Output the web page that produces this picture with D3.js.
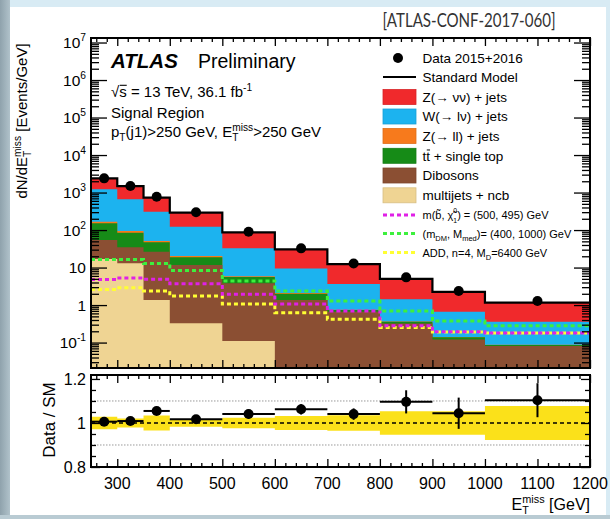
<!DOCTYPE html>
<html>
<head>
<meta charset="utf-8">
<script src="https://cdn.jsdelivr.net/npm/d3@7"></script>
<style>
  html, body { margin: 0; padding: 0; background: #fff; }
  svg { display: block; }
  svg text { white-space: pre; }
</style>
</head>
<body>
<svg id="chart" width="610" height="519"></svg>
<script>
// ---- binning (GeV) ----
const binEdges = [250, 300, 350, 400, 500, 600, 700, 800, 900, 1000, 1200];

// ---- observed data, dN/dE_T^miss [Events/GeV] ----
const dataValues = [2390, 1490, 773, 297, 90.1, 32.5, 12.9, 5.48, 2.36, 1.28];

// ---- SM background components [Events/GeV] ----
const zvvJets        = [1159, 817, 425, 170, 54.0, 21.1, 8.77, 3.58, 1.60, 0.80];
const wlvJets        = [1051, 566, 257, 101.7, 26.7, 7.41, 2.88, 1.055, 0.52, 0.273];
const zllJets        = [15, 9, 4, 1.6, 0.3, 0.09, 0.01, 0.005, 0.002, 0.001];
const ttbarSingleTop = [97, 50, 20.5, 7.0, 1.8, 0.64, 0.08, 0.035, 0.018, 0.005];
const dibosons       = [37, 22, 25.1, 11.4, 3.69, 1.36, 0.66, 0.325, 0.12, 0.081];
const multijetsNcb   = [17, 13, 1.36, 0.33, 0.11, 0, 0, 0, 0, 0];

// ---- signal benchmarks [Events/GeV] ----
const sbottomSignal = [4.8, 5.3, 4.9, 3.7, 1.93, 1.06, 0.70, 0.28, 0.195, 0.18];
const dmSignal      = [16.5, 16.5, 12.9, 8.4, 4.4, 2.36, 1.28, 0.69, 0.374, 0.28];
const addSignal     = [2.62, 2.9, 2.36, 1.74, 1.06, 0.62, 0.416, 0.254, 0.19, 0.18];

// ---- relative uncertainties for the ratio panel ----
const dataStatErr = [0.006, 0.008, 0.012, 0.015, 0.02, 0.022, 0.025, 0.048, 0.068, 0.07];
const smSystErr   = [0.028, 0.02, 0.034, 0.017, 0.024, 0.032, 0.035, 0.053, 0.053, 0.077];

// ---- axis ticks ----
const yMajorExps   = [-1, 0, 1, 2, 3, 4, 5, 6, 7];
const xMajorTicks  = [300, 400, 500, 600, 700, 800, 900, 1000, 1100, 1200];
const ratioMajor   = [0.8, 1, 1.2];
const ratioLabels  = ["0.8", "1", "1.2"];
const ratioMinor   = [0.85, 0.9, 0.95, 1.05, 1.1, 1.15];

const FONT = "'Liberation Sans', Arial, Helvetica, sans-serif";
const nBins = dataValues.length;

const svg = d3.select("#chart");

// ---- page background and white card ----
svg.append("rect").attr("width", 610).attr("height", 519).attr("fill", "#d8ebf4");
const gradL = svg.append("defs").append("linearGradient").attr("id", "edgeL")
  .attr("x1", 0).attr("x2", 1).attr("y1", 0).attr("y2", 0);
gradL.append("stop").attr("offset", 0).attr("stop-color", "#8fa2ac");
gradL.append("stop").attr("offset", 1).attr("stop-color", "#b0c2ca");
svg.append("rect").attr("x", 0).attr("y", 0).attr("width", 10).attr("height", 519).attr("fill", "url(#edgeL)");
svg.append("rect").attr("x", 0).attr("y", 515).attr("width", 610).attr("height", 4).attr("fill", "#b9cbd3");
svg.append("rect").attr("x", 10).attr("y", 7).attr("width", 596).attr("height", 508).attr("fill", "#ffffff");

// ---- scales ----
const P = { l: 91, r: 590, t: 38, b: 368 };
const Rp = { t: 375, b: 467 };
const yMin = 0.021, yMax = 1.32e7;
const x = d3.scaleLinear().domain([250, 1200]).range([P.l, P.r]);
const y = d3.scaleLog().domain([yMin, yMax]).range([P.b, P.t]);
const yr = d3.scaleLinear().domain([0.8, 1.218]).range([Rp.b, Rp.t]);

const centers = d3.range(nBins).map(i => (binEdges[i] + binEdges[i + 1]) / 2);
const stepPts = vals => binEdges.map((e, i) => ({ x: e, v: vals[Math.min(i, nBins - 1)] }));
const clampY = v => y(Math.max(v, yMin));

// ---- rich text helper (sub/superscripts, stacked indices, overlines) ----
function rich(parent, px, py, parts, o = {}) {
  const size = o.size || 15;
  const g = parent.append("g");
  let cx = 0;
  const put = (q, at) => {
    const fs = size * (q.scale || 1);
    const t = g.append("text")
      .attr("x", at).attr("y", q.dy || 0)
      .attr("font-family", o.family || FONT)
      .attr("font-size", fs)
      .attr("font-weight", q.weight || o.weight || "normal")
      .attr("font-style", q.italic || o.italic ? "italic" : "normal")
      .attr("fill", o.fill || "#000")
      .style("white-space", "pre")
      .text(q.t);
    const w = t.node().getComputedTextLength();
    if (q.over) {
      g.append("line").attr("x1", at + 0.5).attr("x2", at + w)
        .attr("y1", -fs * 0.78).attr("y2", -fs * 0.78)
        .attr("stroke", o.fill || "#000").attr("stroke-width", Math.max(1, fs / 14));
    }
    return w;
  };
  parts.forEach(p => {
    if (typeof p === "string") p = { t: p };
    if (p.stack) cx += Math.max(...p.stack.map(q => put(q, cx)));
    else cx += put(p, cx);
  });
  const a = o.anchor || "start";
  const shift = a === "end" ? -cx : a === "middle" ? -cx / 2 : 0;
  g.attr("transform", `translate(${px},${py}) rotate(${o.rotate || 0}) translate(${shift},0)`);
  return g;
}
const sup = (t, s) => ({ t, scale: 0.68, dy: -(s || 15) * 0.38 });
const sub = (t, s) => ({ t, scale: 0.68, dy: (s || 15) * 0.28 });
// index pair stacked above/below one another (e.g. neutralino 0 / 1)
const supHi = (t, s) => ({ t, scale: 0.62, dy: -(s || 15) * 0.52 });
const subLo = (t, s) => ({ t, scale: 0.62, dy: (s || 15) * 0.40 });

// ================= main panel =================
const clip = svg.append("defs").append("clipPath").attr("id", "mainClip");
clip.append("rect").attr("x", P.l).attr("y", P.t).attr("width", P.r - P.l).attr("height", P.b - P.t);
const main = svg.append("g").attr("clip-path", "url(#mainClip)");

// stacked backgrounds: bottom -> top
const stackDefs = [
  { vals: multijetsNcb,   color: "#efd493" },
  { vals: dibosons,       color: "#8b4f33" },
  { vals: ttbarSingleTop, color: "#168b17" },
  { vals: zllJets,        color: "#f77a1c" },
  { vals: wlvJets,        color: "#1cb3ef" },
  { vals: zvvJets,        color: "#f0292c" }
];
let running = d3.range(nBins).map(() => 0);
const cumulative = stackDefs.map(s => (running = running.map((c, i) => c + s.vals[i])));
const smTotal = cumulative[cumulative.length - 1];

const area = d3.area().curve(d3.curveStepAfter)
  .x(d => x(d.x)).y0(P.b).y1(d => clampY(d.v));
for (let k = stackDefs.length - 1; k >= 0; k--) {
  main.append("path").attr("d", area(stepPts(cumulative[k])))
    .attr("fill", stackDefs[k].color).attr("stroke", "none");
}

const stepLine = d3.line().curve(d3.curveStepAfter).x(d => x(d.x)).y(d => clampY(d.v));

// signal benchmarks (dotted)
const signals = [
  { vals: addSignal,     color: "#ffff33" },
  { vals: sbottomSignal, color: "#e020e6" },
  { vals: dmSignal,      color: "#3df03d" }
];
signals.forEach(s => {
  main.append("path").attr("d", stepLine(stepPts(s.vals)))
    .attr("fill", "none").attr("stroke", s.color)
    .attr("stroke-width", 3).attr("stroke-dasharray", "4,3");
});

// total SM
main.append("path").attr("d", stepLine(stepPts(smTotal)))
  .attr("fill", "none").attr("stroke", "#000").attr("stroke-width", 2.2);

// data
main.selectAll("circle.data").data(dataValues).join("circle")
  .attr("cx", (d, i) => x(centers[i])).attr("cy", d => y(d)).attr("r", 5).attr("fill", "#000");

// ---- main axes ----
const yMajor = yMajorExps.map(e => Math.pow(10, e));
const yMinor = [];
for (let e = -2; e <= 7; e++) for (let m = 2; m <= 9; m++) {
  const v = m * Math.pow(10, e);
  if (v > yMin && v < yMax) yMinor.push(v);
}
const xMinor = d3.range(260, 1200, 20).filter(v => v % 100 !== 0);

function tickAxis(axis, tx, ty, vals, size) {
  const g = svg.append("g").attr("transform", `translate(${tx},${ty})`)
    .call(axis.tickValues(vals).tickSize(size).tickFormat(() => ""));
  g.select(".domain").remove();
  g.selectAll(".tick line").attr("stroke", "#000").attr("stroke-width", 1.3);
  return g;
}
tickAxis(d3.axisLeft(y), P.l, 0, yMajor, -16);
tickAxis(d3.axisLeft(y), P.l, 0, yMinor, -8);
tickAxis(d3.axisRight(y), P.r, 0, yMajor, -16);
tickAxis(d3.axisRight(y), P.r, 0, yMinor, -8);
tickAxis(d3.axisTop(x), 0, P.t, xMajorTicks, -8);
tickAxis(d3.axisTop(x), 0, P.t, xMinor, -4);
tickAxis(d3.axisBottom(x), 0, P.b, xMajorTicks, -8);
tickAxis(d3.axisBottom(x), 0, P.b, xMinor, -4);

svg.append("rect").attr("x", P.l).attr("y", P.t).attr("width", P.r - P.l).attr("height", P.b - P.t)
  .attr("fill", "none").attr("stroke", "#000").attr("stroke-width", 2);

// y tick labels
yMajorExps.forEach(e => {
  const py = y(Math.pow(10, e)) + 5.5;
  let parts;
  if (e === 0) parts = ["1"];
  else if (e === 1) parts = ["10"];
  else parts = ["10", { t: String(e), scale: 0.66, dy: -7 }];
  rich(svg, 86, py, parts, { size: 15.5, anchor: "end" });
});

// y title
rich(svg, 27, 121, ["dN/dE", { stack: [sup("miss", 15), sub("T", 15)] }, " [Events/GeV]"],
  { size: 15, anchor: "middle", rotate: -90 });

// ---- labels inside the frame ----
rich(svg, 111, 68, [{ t: "ATLAS", weight: "bold", italic: true }], { size: 20.5 });
rich(svg, 198, 68, ["Preliminary"], { size: 19.5 });
rich(svg, 111, 97, ["\u221A", { t: "s", over: true }, " = 13 TeV, 36.1 fb", sup("-1", 15)], { size: 15 });
rich(svg, 111, 117.5, ["Signal Region"], { size: 15 });
rich(svg, 111, 137, ["p", sub("T", 15), "(j1)>250 GeV, E", { stack: [sup("miss", 15), sub("T", 15)] }, ">250 GeV"], { size: 15 });

// ---- legend ----
const LX = 383, LW = 33, TX = 422.5;
svg.append("circle").attr("cx", 398).attr("cy", 58).attr("r", 5).attr("fill", "#000");
rich(svg, TX, 62.7, ["Data 2015+2016"], { size: 13.5 });
svg.append("line").attr("x1", LX).attr("x2", LX + LW).attr("y1", 77).attr("y2", 77)
  .attr("stroke", "#000").attr("stroke-width", 2);
rich(svg, TX, 81.7, ["Standard Model"], { size: 13.5 });

const boxEntries = [
  { k: 5, cy: 97,    parts: ["Z(\u2192 \u03BD\u03BD) + jets"] },
  { k: 4, cy: 116.5, parts: ["W(\u2192 l\u03BD) + jets"] },
  { k: 3, cy: 136,   parts: ["Z(\u2192 ll) + jets"] },
  { k: 2, cy: 155.8, parts: ["t", { t: "t", over: true }, " + single top"] },
  { k: 1, cy: 175.5, parts: ["Dibosons"] },
  { k: 0, cy: 195.3, parts: ["multijets + ncb"] }
];
boxEntries.forEach(b => {
  svg.append("rect").attr("x", LX).attr("y", b.cy - 7.5).attr("width", LW).attr("height", 15)
    .attr("fill", stackDefs[b.k].color)
    .attr("stroke", d3.color(stackDefs[b.k].color).darker(0.3)).attr("stroke-width", 0.8);
  rich(svg, TX, b.cy + 4.7, b.parts, { size: 13.5 });
});

const sigEntries = [
  { s: 1, cy: 215,   parts: ["m(b\u0303, \u03C7\u0303", { stack: [supHi("0", 11), subLo("1", 11)] }, ") = (500, 495) GeV"] },
  { s: 2, cy: 233.5, parts: ["(m", sub("DM", 11), ", M", sub("med", 11), ")= (400, 1000) GeV"] },
  { s: 0, cy: 252.5, parts: ["ADD, n=4, M", sub("D", 11), "=6400 GeV"] }
];
sigEntries.forEach(e => {
  svg.append("line").attr("x1", LX).attr("x2", LX + LW).attr("y1", e.cy).attr("y2", e.cy)
    .attr("stroke", signals[e.s].color).attr("stroke-width", 3).attr("stroke-dasharray", "4,3");
  rich(svg, TX, e.cy + 4, e.parts, { size: 11 });
});

// ---- reference tag ----
svg.append("text").attr("x", 382.5).attr("y", 27)
  .attr("font-family", "Lato, 'Open Sans', sans-serif").attr("font-size", 18.5)
  .attr("fill", "#333").attr("textLength", 173).attr("lengthAdjust", "spacingAndGlyphs")
  .text("[ATLAS-CONF-2017-060]");

// ================= ratio panel =================
const ratio = dataValues.map((d, i) => d / smTotal[i]);
const rp = svg.append("g");

const band = d3.area().curve(d3.curveStepAfter)
  .x(d => x(d.x)).y0(d => yr(1 - d.v)).y1(d => yr(1 + d.v));
rp.append("path").attr("d", band(stepPts(smSystErr))).attr("fill", "#fbe11a");

[1.1, 0.9].forEach(v => {
  rp.append("line").attr("x1", P.l).attr("x2", P.r).attr("y1", yr(v)).attr("y2", yr(v))
    .attr("stroke", "#9a9a9a").attr("stroke-width", 1).attr("stroke-dasharray", "1.5,1.5");
});
rp.append("line").attr("x1", P.l).attr("x2", P.r).attr("y1", yr(1)).attr("y2", yr(1))
  .attr("stroke", "#000").attr("stroke-width", 1.6).attr("stroke-dasharray", "4,3");

ratio.forEach((r, i) => {
  rp.append("line").attr("x1", x(binEdges[i])).attr("x2", x(binEdges[i + 1]))
    .attr("y1", yr(r)).attr("y2", yr(r)).attr("stroke", "#000").attr("stroke-width", 2);
  rp.append("line").attr("x1", x(centers[i])).attr("x2", x(centers[i]))
    .attr("y1", yr(r - dataStatErr[i] * r)).attr("y2", yr(r + dataStatErr[i] * r))
    .attr("stroke", "#000").attr("stroke-width", 2);
  rp.append("circle").attr("cx", x(centers[i])).attr("cy", yr(r)).attr("r", 5).attr("fill", "#000");
});

tickAxis(d3.axisLeft(yr), P.l, 0, ratioMajor, -9);
tickAxis(d3.axisLeft(yr), P.l, 0, ratioMinor, -5);
tickAxis(d3.axisRight(yr), P.r, 0, ratioMajor, -9);
tickAxis(d3.axisRight(yr), P.r, 0, ratioMinor, -5);
tickAxis(d3.axisTop(x), 0, Rp.t, xMajorTicks, -8);
tickAxis(d3.axisTop(x), 0, Rp.t, xMinor, -4);
tickAxis(d3.axisBottom(x), 0, Rp.b, xMajorTicks, -8);
tickAxis(d3.axisBottom(x), 0, Rp.b, xMinor, -4);

svg.append("rect").attr("x", P.l).attr("y", Rp.t).attr("width", P.r - P.l).attr("height", Rp.b - Rp.t)
  .attr("fill", "none").attr("stroke", "#000").attr("stroke-width", 2);

ratioMajor.forEach((v, i) => {
  rich(svg, 86, yr(v) + 5.8, [ratioLabels[i]], { size: 16, anchor: "end" });
});
xMajorTicks.forEach(v => {
  rich(svg, x(v), 489, [String(v)], { size: 16, anchor: "middle" });
});

rich(svg, 55, 420, ["Data / SM"], { size: 17, anchor: "middle", rotate: -90 });
rich(svg, 590, 509.5, ["E", { stack: [sup("miss", 16), sub("T", 16)] }, " [GeV]"], { size: 16, anchor: "end" });
</script>
</body>
</html>
